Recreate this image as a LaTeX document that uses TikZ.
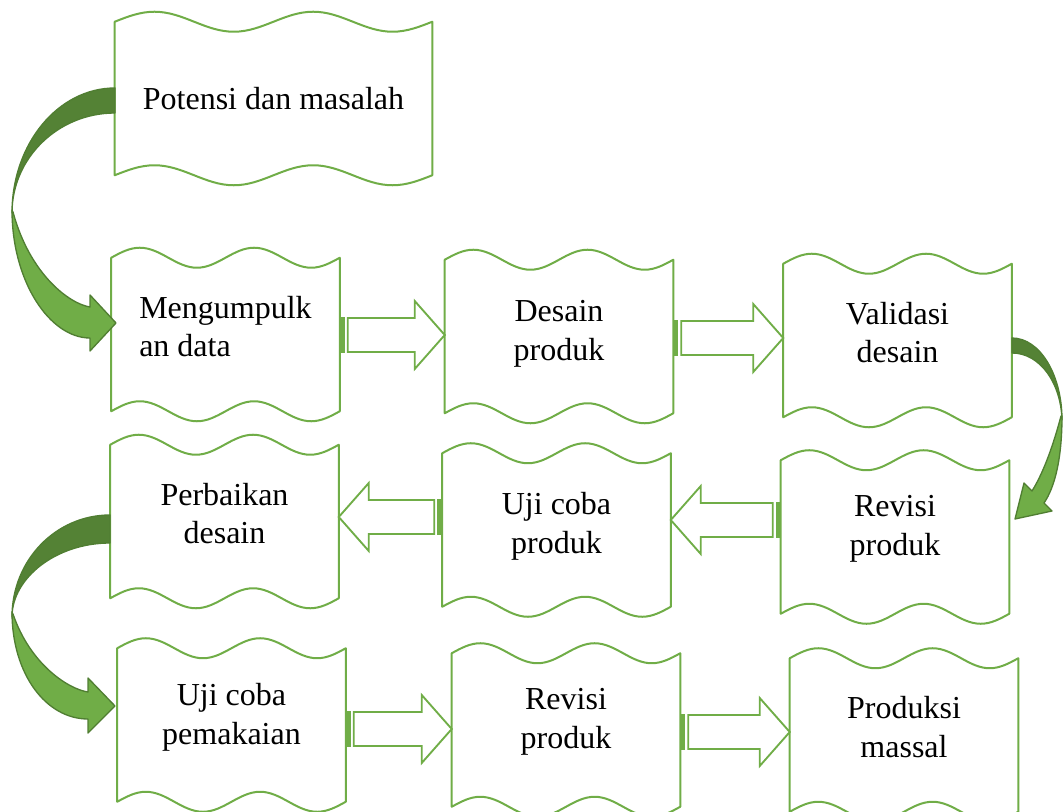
\documentclass[tikz,border=0pt]{standalone}
\usepackage{fontspec}
\setmainfont{Liberation Serif}
\usetikzlibrary{calc}

\definecolor{boxgreen}{HTML}{70AD47}
\definecolor{darkgreen}{HTML}{548235}
\definecolor{edgegreen}{HTML}{507E32}

\tikzset{
  wavebox/.style={inner sep=0pt, minimum width=171pt, minimum height=114.75pt},
  boxtext/.style={font=\fontsize{24}{29}\selectfont, align=center, yshift=6pt},
  waveline/.style={draw=boxgreen, line width=1.5pt, line join=round},
  stripe/.style={fill=boxgreen, inner sep=0pt, minimum width=3.75pt, minimum height=26.9pt},
  stripearrow/.style={draw=boxgreen, line width=1.4pt, fill=white,
    to path={let \p1=(\tikztostart), \p2=(\tikztotarget),
      \n1={(\x2-\x1)/abs(\x2-\x1)} in
      ({\x1+(\n1)*6pt},{\y1+12.75pt}) -- ({\x2-(\n1)*22.5pt},{\y1+12.75pt})
      -- ({\x2-(\n1)*22.5pt},{\y1+25.5pt}) -- (\x2,\y1)
      -- ({\x2-(\n1)*22.5pt},{\y1-25.5pt}) -- ({\x2-(\n1)*22.5pt},{\y1-12.75pt})
      -- ({\x1+(\n1)*6pt},{\y1-12.75pt}) -- cycle
      ({\x1+(\n1)*1.9pt},\y1) node[stripe] {}}},
  backpart/.style={fill=darkgreen, draw=edgegreen, line width=1pt, line join=round},
  frontpart/.style={fill=boxgreen, draw=edgegreen, line width=1pt, line join=round}
}

\begin{document}
\begin{tikzpicture}[x=0.75pt, y=-0.75pt]
\useasboundingbox (0,0) rectangle (1063,812);
% kotak-kotak tahapan:
\node[wavebox, minimum width=237.75pt, label={[boxtext, yshift=-6pt]center:Potensi dan masalah}] (potensi) at (273.5,98.5) {};
\node[wavebox, label={[boxtext, align=left]center:Mengumpulk\\an data}] (kumpul) at (225.5,334.5) {};
\node[wavebox, label={[boxtext, yshift=-4pt]center:Desain\\produk}] (desain) at (559,336.5) {};
\node[wavebox, label={[boxtext]center:Validasi\\desain}] (validasi) at (897.5,340.5) {};
\node[wavebox, label={[boxtext]center:Perbaikan\\desain}] (perbaikan) at (224.5,521.5) {};
\node[wavebox, label={[boxtext, yshift=-3pt]center:Uji coba\\produk}] (ujicoba) at (556.5,530) {};
\node[wavebox, label={[boxtext]center:Revisi\\produk}] (revisi) at (895,537) {};
\node[wavebox, label={[boxtext]center:Uji coba\\pemakaian}] (pakai) at (231.5,725) {};
\node[wavebox, label={[boxtext]center:Revisi\\produk}] (revisidua) at (566,730) {};
\node[wavebox, label={[boxtext]center:Produksi\\massal}] (massal) at (904,735) {};

% garis gelombang:
\foreach \b in {potensi,kumpul,desain,validasi,perbaikan,ujicoba,revisi,pakai,revisidua,massal}
  \draw[waveline] (\b.north west) -- (\b.south west)
    sin ($(\b.south west)!.125!(\b.south east)+(0,-10)$)
    cos ($(\b.south west)!.25!(\b.south east)$)
    sin ($(\b.south west)!.375!(\b.south east)+(0,10)$)
    cos ($(\b.south west)!.5!(\b.south east)$)
    sin ($(\b.south west)!.625!(\b.south east)+(0,-10)$)
    cos ($(\b.south west)!.75!(\b.south east)$)
    sin ($(\b.south west)!.875!(\b.south east)+(0,10)$)
    cos (\b.south east) -- (\b.north east)
    sin ($(\b.north west)!.875!(\b.north east)+(0,10)$)
    cos ($(\b.north west)!.75!(\b.north east)$)
    sin ($(\b.north west)!.625!(\b.north east)+(0,-10)$)
    cos ($(\b.north west)!.5!(\b.north east)$)
    sin ($(\b.north west)!.375!(\b.north east)+(0,10)$)
    cos ($(\b.north west)!.25!(\b.north east)$)
    sin ($(\b.north west)!.125!(\b.north east)+(0,-10)$)
    cos (\b.north west) -- cycle;

% panah bergaris:
\foreach \a/\c/\yy in {kumpul.east/desain.west/335, desain.east/validasi.west/338,
    ujicoba.west/perbaikan.east/517, revisi.west/ujicoba.east/520,
    pakai.east/revisidua.west/729, revisidua.east/massal.west/732}
  \draw[stripearrow] (\a |- 0,\yy) to (\c |- 0,\yy);

% panah melengkung kiri atas:
\draw[backpart] (115,88) .. controls (58,88) and (12,144) .. (12,213)
  .. controls (12,158) and (58,113) .. (115,113) -- cycle;
\draw[frontpart] (12,210) .. controls (12,282) and (50,338) .. (90,338)
  -- (90,351) -- (116,323) -- (90,295) -- (90,307)
  .. controls (70,304) and (30,275) .. (13,212) -- cycle;
% panah melengkung kanan:
\draw[backpart] (1012,338) .. controls (1040,338) and (1062,375) .. (1062,420)
  .. controls (1061,383) and (1040,353) .. (1012,353) -- cycle;
\draw[frontpart] (1062,416) .. controls (1062,458) and (1055,487) .. (1044,503)
  -- (1052,511) -- (1015,519) -- (1024,483) -- (1032,491)
  .. controls (1042,475) and (1052,450) .. (1061,416) -- cycle;
% panah melengkung kiri bawah:
\draw[backpart] (110,515) .. controls (56,515) and (12,560) .. (12,617)
  .. controls (12,578) and (56,543) .. (110,543) -- cycle;
\draw[frontpart] (12,612) .. controls (12,674) and (46,719) .. (88,719)
  -- (88,733) -- (115,706) -- (88,678) -- (88,692)
  .. controls (68,689) and (30,664) .. (13,614) -- cycle;
\end{tikzpicture}
\end{document}
